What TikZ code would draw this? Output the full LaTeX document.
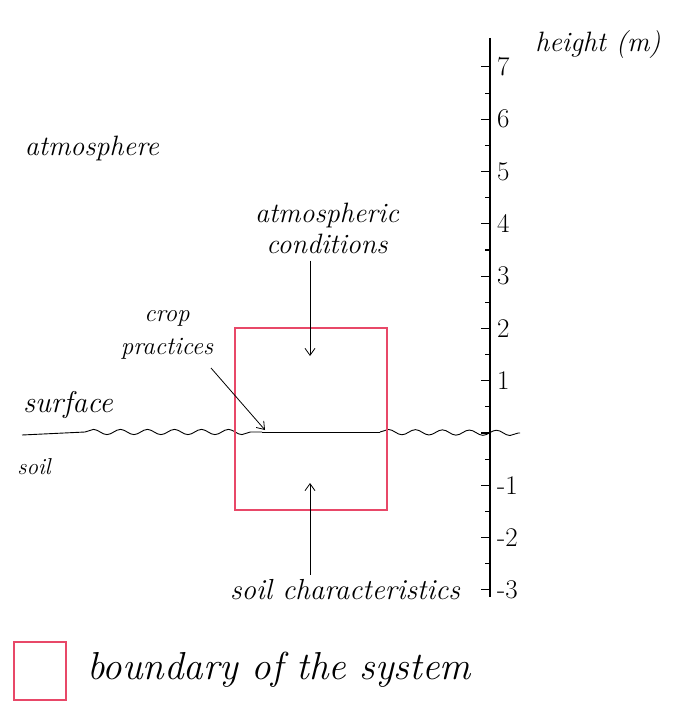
\documentclass[tikz,border=0pt]{standalone}
\usepackage{fontspec}
\usetikzlibrary{decorations.pathmorphing,arrows.meta}
\definecolor{sysred}{RGB}{232,72,104}
\begin{document}
\begin{tikzpicture}[x=1pt,y=-1pt,
  hand/.style={font=\fontsize{28}{31}\selectfont\itshape, inner sep=1pt},
  lbl/.style={font=\fontsize{27}{30}\selectfont, inner sep=1pt, anchor=west},
  boundary/.style={draw=sysred, line width=1.2pt},
  arr/.style={-{Straight Barb[length=7pt,width=10pt]}, line width=0.8pt},
  wave/.style={decorate, decoration={snake, amplitude=2.6pt, segment length=27pt}, line width=0.9pt}]
\useasboundingbox (0,0) rectangle (673,709);
% axis
\draw[line width=1.1pt] (490,38) -- (490,597);
\foreach \v in {-3,...,7} {
  \draw[line width=1.1pt] (481,{433-52.3*\v}) -- (491,{433-52.3*\v});
  \node[lbl] (t\v) at (496,{433-52.3*\v}) {\ifnum\v<0 -\the\numexpr-\v\relax\else\ifnum\v=0\else\v\fi\fi};
}
\foreach \v in {-2.5,-1.5,...,6.5} {
  \draw[line width=1.1pt] (485,{433-52.3*\v}) -- (490,{433-52.3*\v});
}
\node[hand] (height) at (598,45) {height (m)};
% surface line
\coordinate (s0) at (22,435);
\coordinate (s1) at (85,432);
\coordinate (s2) at (262,432);
\coordinate (s3) at (380,432);
\coordinate (s4) at (520,433);
\draw[line width=0.9pt] (s0) -- (s1);
\draw[wave] (s1) -- (s2);
\draw[line width=0.9pt] (s2) -- (s3);
\draw[wave] (s3) -- (s4);
% labels
\node[hand] (atm) at (92,148) {atmosphere};
\node[hand, align=center] (atmc) at (327,228) {atmospheric\\conditions};
\node[hand, align=center, font=\fontsize{25}{33}\selectfont\itshape] (crop) at (167,335) {crop\\practices};
\node[hand, font=\fontsize{30}{33}\selectfont\itshape] (surf) at (68,405) {surface};
\node[hand, font=\fontsize{23}{24}\selectfont\itshape] (soil) at (34,467) {soil};
\node[hand, font=\fontsize{29}{33}\selectfont\itshape] (soilc) at (345,590) {soil characteristics};
% boundary box
\draw[boundary] (235,328) rectangle (387,510);
% arrows
\coordinate (a1) at (310,356);
\coordinate (a2) at (265,430);
\coordinate (a3) at (310,483);
\draw[arr] (atmc.south -| a1) ++(0,6) -- (a1);
\draw[arr] (211,368) -- (a2);
\draw[arr] (soilc.north -| a3) ++(0,-4) -- (a3);
% legend
\draw[boundary] (14,642) rectangle (66,700);
\node[hand, anchor=west, font=\fontsize{39}{42}\selectfont\itshape] (legt) at (86,670) {boundary of the system};
\end{tikzpicture}
\end{document}
